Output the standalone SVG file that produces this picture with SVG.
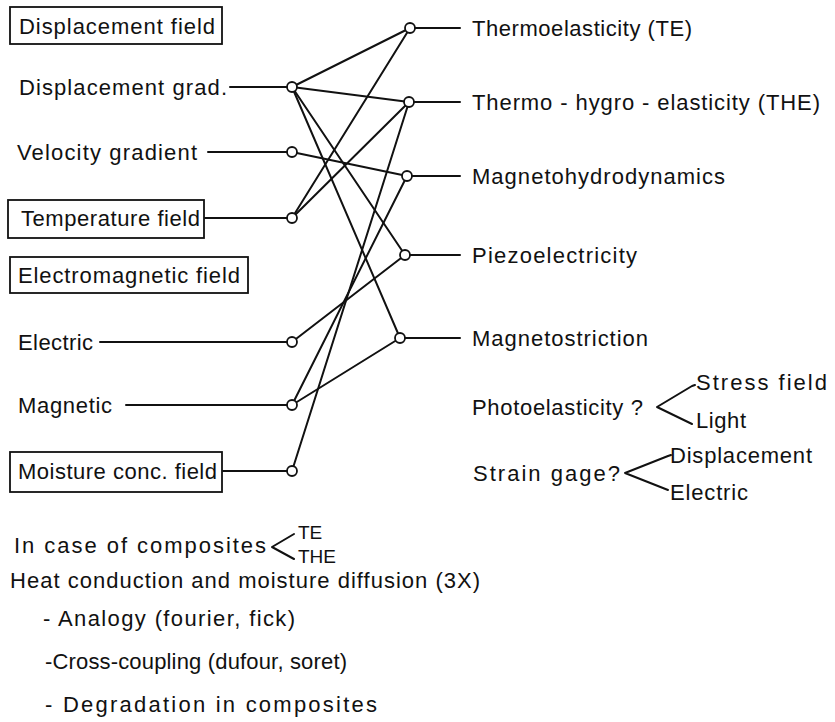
<svg xmlns="http://www.w3.org/2000/svg" width="835" height="722" viewBox="0 0 835 722">
<style>
text{font-family:"Liberation Sans",Arial,sans-serif;font-size:22px;fill:#111}
.sm{font-size:19px}
.box{fill:none;stroke:#111;stroke-width:1.8}
.ln{stroke:#111;stroke-width:2;fill:none;stroke-linecap:round;stroke-linejoin:round}
.nd{fill:#fff;stroke:#111;stroke-width:1.8}
</style>
<rect width="835" height="722" fill="#fff"/>
<g id="connectors" class="ln">
<line x1="230" y1="87" x2="287" y2="87"/>
<line x1="208" y1="152" x2="287" y2="152"/>
<line x1="205" y1="218" x2="287" y2="218"/>
<line x1="100" y1="342" x2="287" y2="342"/>
<line x1="126" y1="405" x2="287" y2="405"/>
<line x1="223" y1="471" x2="287" y2="471"/>
<line x1="415" y1="28" x2="460" y2="28"/>
<line x1="414" y1="102" x2="460" y2="102"/>
<line x1="412" y1="176" x2="460" y2="176"/>
<line x1="410" y1="255" x2="460" y2="255"/>
<line x1="405" y1="338" x2="460" y2="338"/>
<line x1="292" y1="87" x2="410" y2="28"/>
<line x1="292" y1="87" x2="409" y2="102"/>
<line x1="292" y1="87" x2="405" y2="255"/>
<line x1="292" y1="87" x2="400" y2="338"/>
<line x1="292" y1="152" x2="407" y2="176"/>
<line x1="292" y1="218" x2="410" y2="28"/>
<line x1="292" y1="218" x2="409" y2="102"/>
<line x1="292" y1="342" x2="405" y2="255"/>
<line x1="292" y1="405" x2="400" y2="338"/>
<line x1="292" y1="405" x2="407" y2="176"/>
<line x1="292" y1="471" x2="409" y2="102"/>
<polyline points="695,385 692,386 657,407 692,424"/>
<polyline points="671,455 668,456 625,473 668,490"/>
<polyline points="294,534 272,547 294,559"/>
</g>
<g id="n-displacement-field"><rect class="box" x="10" y="7" width="212" height="37"/><text x="19" y="34" textLength="196" lengthAdjust="spacing">Displacement field</text></g>
<g id="n-displacement-grad"><text x="19" y="95" textLength="208" lengthAdjust="spacing">Displacement grad.</text><circle class="nd" cx="292" cy="87" r="5"/></g>
<g id="n-velocity-gradient"><text x="17" y="160" textLength="180" lengthAdjust="spacing">Velocity gradient</text><circle class="nd" cx="292" cy="152" r="5"/></g>
<g id="n-temperature-field"><rect class="box" x="8" y="200" width="196" height="38"/><text x="21" y="226" textLength="179" lengthAdjust="spacing">Temperature field</text><circle class="nd" cx="292" cy="218" r="5"/></g>
<g id="n-electromagnetic-field"><rect class="box" x="10" y="257" width="238" height="36"/><text x="18" y="283" textLength="222" lengthAdjust="spacing">Electromagnetic field</text></g>
<g id="n-electric"><text x="18" y="350" textLength="75" lengthAdjust="spacing">Electric</text><circle class="nd" cx="292" cy="342" r="5"/></g>
<g id="n-magnetic"><text x="18" y="413" textLength="94" lengthAdjust="spacing">Magnetic</text><circle class="nd" cx="292" cy="405" r="5"/></g>
<g id="n-moisture"><rect class="box" x="10" y="452" width="212" height="40"/><text x="18" y="479" textLength="199" lengthAdjust="spacing">Moisture conc. field</text><circle class="nd" cx="292" cy="471" r="5"/></g>
<g id="n-te"><circle class="nd" cx="410" cy="28" r="5"/><text x="472" y="36" textLength="220" lengthAdjust="spacing">Thermoelasticity (TE)</text></g>
<g id="n-the"><circle class="nd" cx="409" cy="102" r="5"/><text x="472" y="110" textLength="348" lengthAdjust="spacing">Thermo - hygro - elasticity (THE)</text></g>
<g id="n-mhd"><circle class="nd" cx="407" cy="176" r="5"/><text x="472" y="184" textLength="253" lengthAdjust="spacing">Magnetohydrodynamics</text></g>
<g id="n-piezo"><circle class="nd" cx="405" cy="255" r="5"/><text x="472" y="263" textLength="165" lengthAdjust="spacing">Piezoelectricity</text></g>
<g id="n-magnetostriction"><circle class="nd" cx="400" cy="338" r="5"/><text x="472" y="346" textLength="176" lengthAdjust="spacing">Magnetostriction</text></g>
<g id="n-photoelasticity"><text x="472" y="415" textLength="171" lengthAdjust="spacing">Photoelasticity ?</text><text x="696" y="390" textLength="131" lengthAdjust="spacing">Stress field</text><text x="696" y="428" textLength="50" lengthAdjust="spacing">Light</text></g>
<g id="n-strain-gage"><text x="473" y="481" textLength="147" lengthAdjust="spacing">Strain gage?</text><text x="670" y="463" textLength="142" lengthAdjust="spacing">Displacement</text><text x="670" y="500" textLength="78" lengthAdjust="spacing">Electric</text></g>
<g id="n-composites"><text x="14" y="553" textLength="252" lengthAdjust="spacing">In case of composites</text><text class="sm" x="298" y="539">TE</text><text class="sm" x="298" y="563">THE</text></g>
<g id="n-notes">
<text x="10" y="588" textLength="470" lengthAdjust="spacing">Heat conduction and moisture diffusion (3X)</text>
<text x="43" y="626" textLength="252" lengthAdjust="spacing">- Analogy (fourier, fick)</text>
<text x="45" y="669" textLength="302" lengthAdjust="spacing">-Cross-coupling (dufour, soret)</text>
<text x="45" y="712" textLength="332" lengthAdjust="spacing">- Degradation in composites</text>
</g>
</svg>
